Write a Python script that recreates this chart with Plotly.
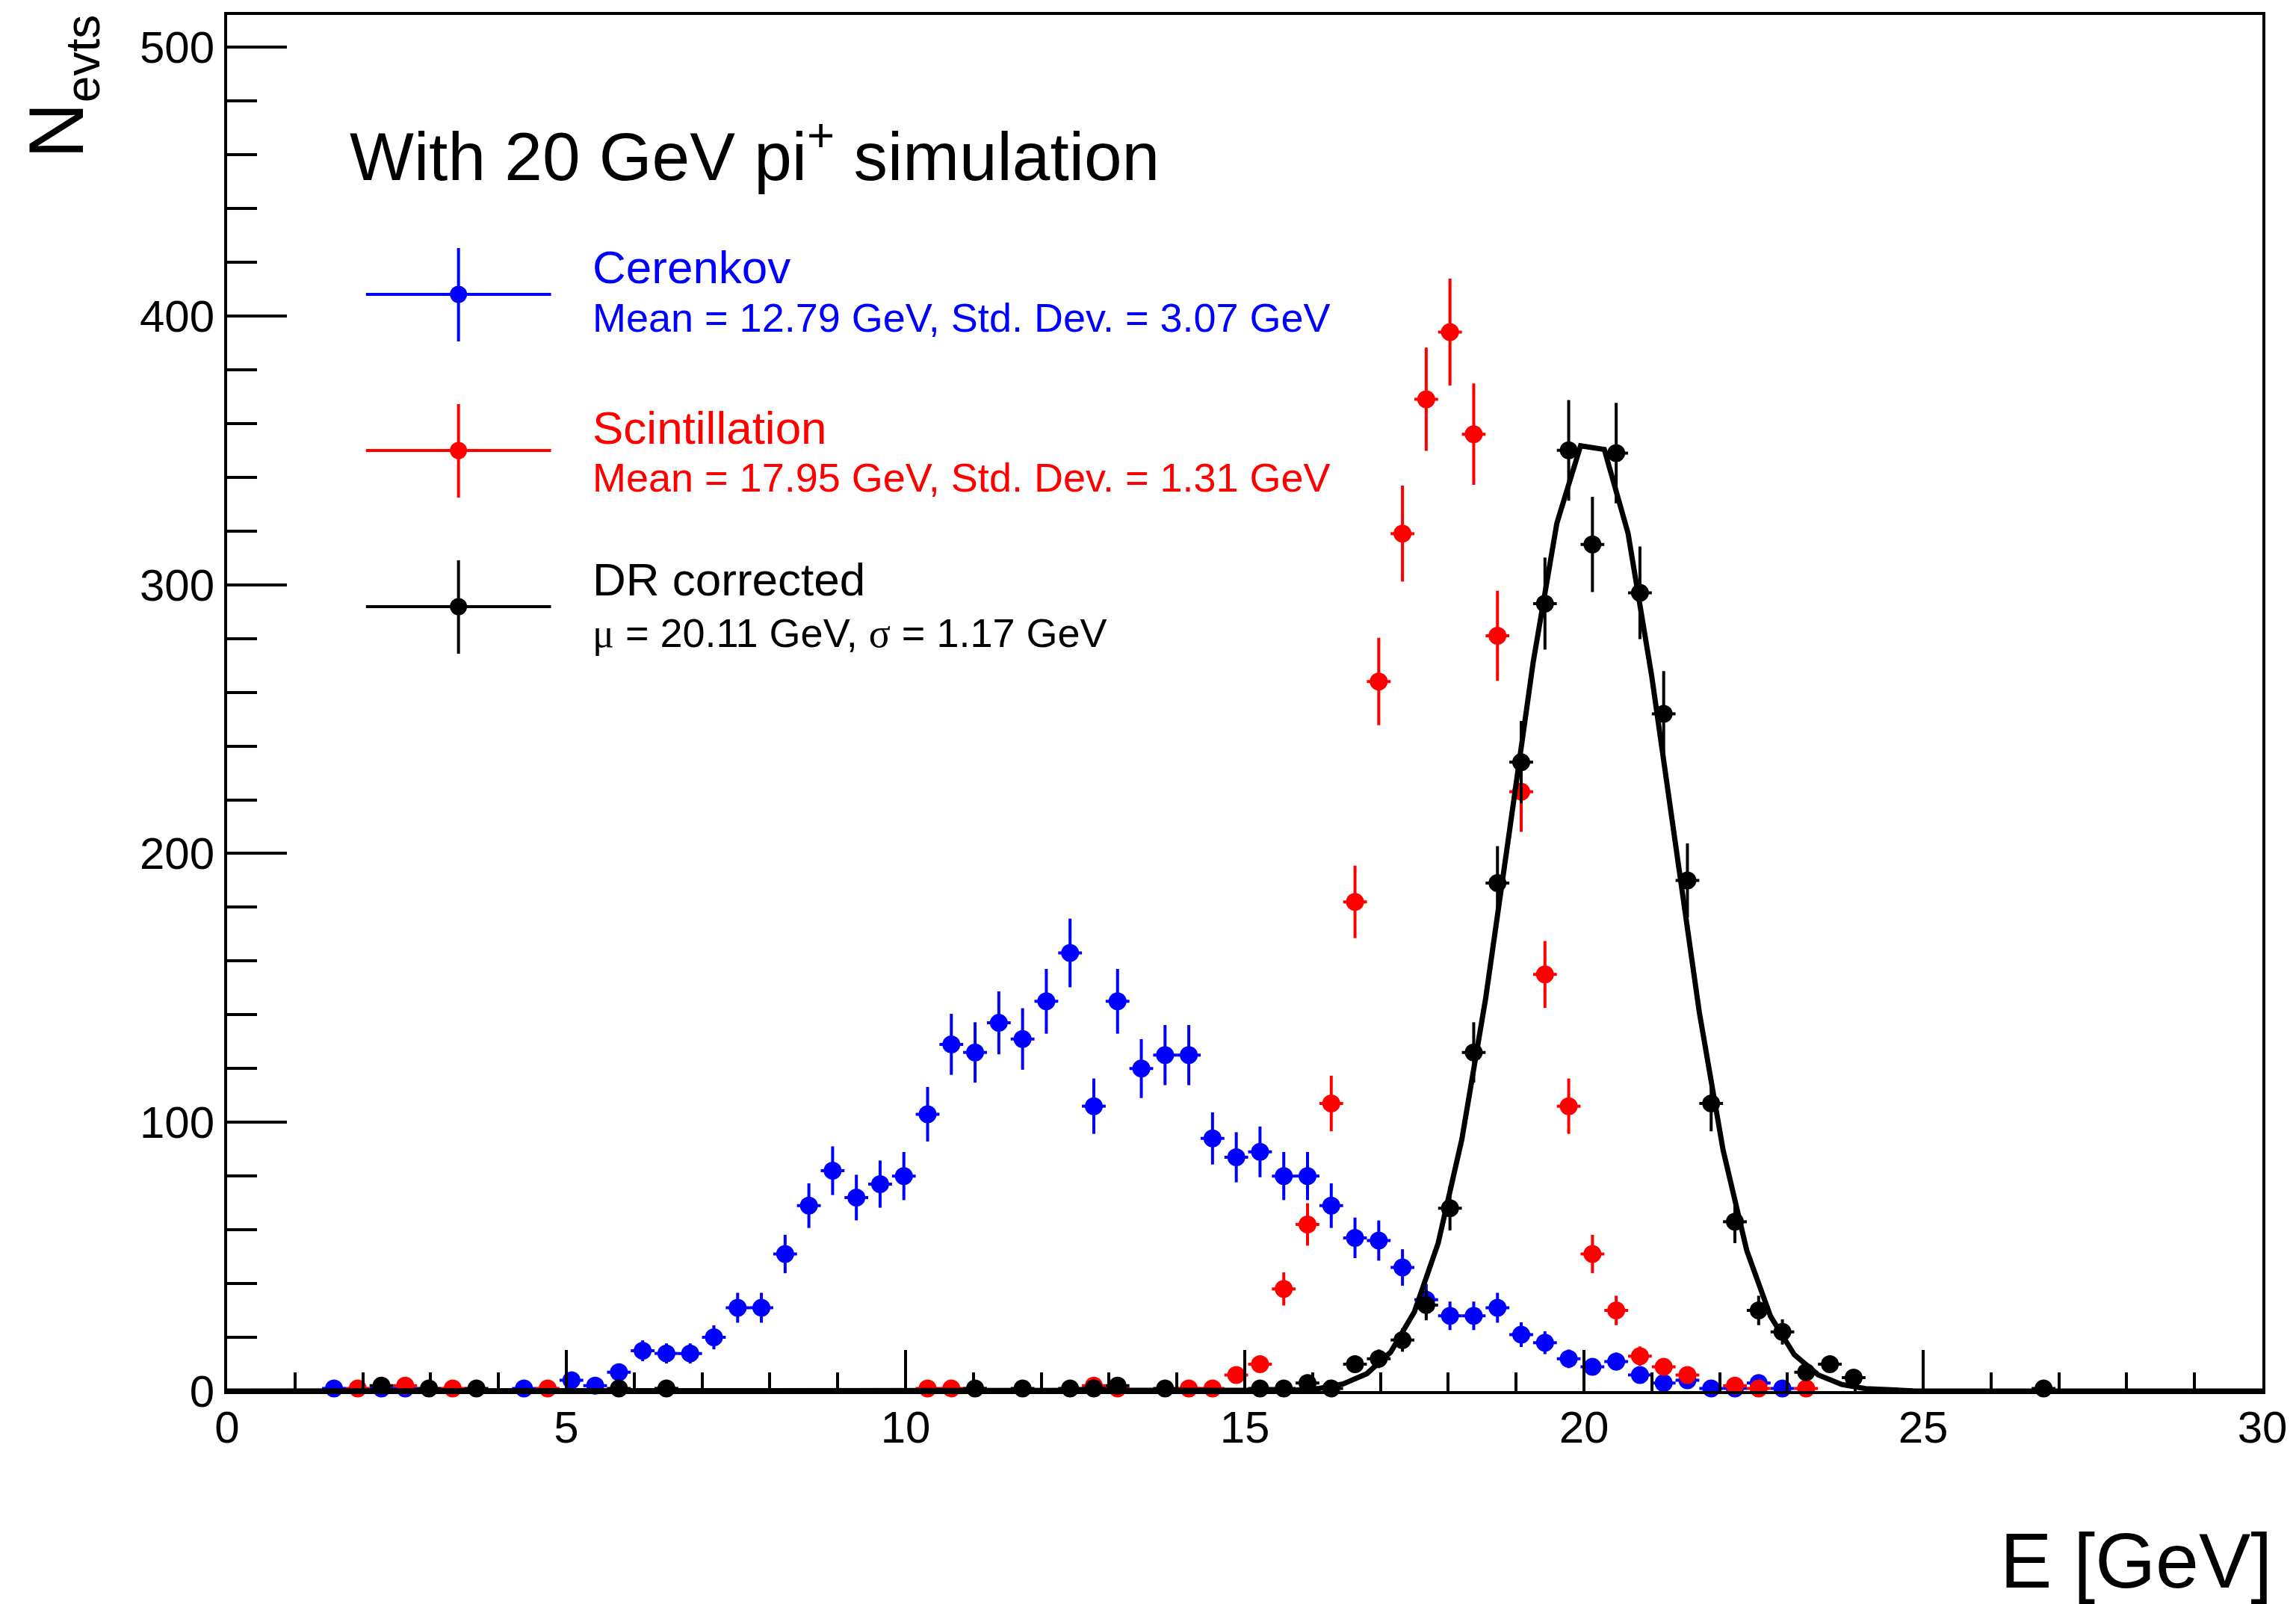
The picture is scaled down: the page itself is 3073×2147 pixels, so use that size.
import numpy as np
import plotly.graph_objects as go

# Canvas and frame geometry (pixels)
W, H = 3073, 2147
ML, MR, MT, MB = 304, 42, 20, 285
PW, PH = W - ML - MR, H - MT - MB

# 0.35 GeV bins: bin centres (GeV) and event counts
cer_e = [1.575, 2.275, 2.625, 4.375, 5.075, 5.425, 5.775, 6.125, 6.475, 6.825,
         7.175, 7.525, 7.875, 8.225, 8.575, 8.925, 9.275, 9.625, 9.975, 10.325,
         10.675, 11.025, 11.375, 11.725, 12.075, 12.425, 12.775, 13.125, 13.475,
         13.825, 14.175, 14.525, 14.875, 15.225, 15.575, 15.925, 16.275, 16.625,
         16.975, 17.325, 17.675, 18.025, 18.375, 18.725, 19.075, 19.425, 19.775,
         20.125, 20.475, 20.825, 21.175, 21.525, 21.875, 22.225, 22.575, 22.925]
cer_n = [1, 1, 1, 1, 4, 2, 7, 15, 14, 14,
         20, 31, 31, 51, 69, 82, 72, 77, 80, 103,
         129, 126, 137, 131, 145, 163, 106, 145, 120,
         125, 125, 94, 87, 89, 80, 80, 69, 57,
         56, 46, 34, 28, 28, 31, 21, 18, 12,
         9, 11, 6, 3, 4, 1, 1, 3, 1]

sci_e = [1.925, 2.625, 3.325, 4.725, 10.325, 10.675, 12.775, 13.125, 14.175,
         14.525, 14.875, 15.225, 15.575, 15.925, 16.275, 16.625, 16.975, 17.325,
         17.675, 18.025, 18.375, 18.725, 19.075, 19.425, 19.775, 20.125, 20.475,
         20.825, 21.175, 21.525, 22.225, 22.575, 23.275]
sci_n = [1, 2, 1, 1, 1, 1, 2, 1, 1,
         1, 6, 10, 38, 62, 107, 182, 264, 319,
         369, 394, 356, 281, 223, 155, 106, 51, 30,
         13, 9, 6, 2, 1, 1]

dr_e = [2.275, 2.975, 3.675, 5.775, 6.475, 11.025, 11.725, 12.425, 12.775,
        13.125, 13.825, 15.225, 15.575, 15.925, 16.275, 16.625, 16.975, 17.325,
        17.675, 18.025, 18.375, 18.725, 19.075, 19.425, 19.775, 20.125, 20.475,
        20.825, 21.175, 21.525, 21.875, 22.225, 22.575, 22.925, 23.275, 23.625,
        23.975, 26.775]
dr_n = [2, 1, 1, 1, 1, 1, 1, 1, 1,
        2, 1, 1, 1, 3, 1, 10, 12, 19,
        32, 68, 126, 189, 234, 293, 350, 315, 349,
        297, 252, 190, 107, 63, 30, 22, 7, 10,
        5, 1]

# Gaussian fit to the DR-corrected spectrum
fit_mu, fit_sigma, fit_const = 20.11, 1.17, 355.0
BIN_HALF = 0.175

x_ticks = [0, 5, 10, 15, 20, 25, 30]
y_ticks = [0, 100, 200, 300, 400, 500]

FONT = "Liberation Sans, Arial, Helvetica, sans-serif"
SERIF = "Liberation Serif, Times New Roman, serif"
BLUE, RED, BLACK = "#0000ff", "#ff0000", "#000000"


def px(x, y):
    """Pixel position on the canvas -> paper coordinates of the frame."""
    return (x - ML) / PW, (H - MB - y) / PH


def hist_trace(e, n, color):
    return go.Scatter(
        x=e, y=n, mode="markers", cliponaxis=False,
        marker=dict(symbol="circle", size=24, color=color, line=dict(width=0)),
        error_x=dict(type="constant", value=BIN_HALF, color=color, thickness=4, width=0),
        error_y=dict(type="data", array=np.sqrt(n), color=color, thickness=4, width=0),
        showlegend=False,
    )


fig = go.Figure()
fig.add_trace(hist_trace(cer_e, cer_n, BLUE))
fig.add_trace(hist_trace(sci_e, sci_n, RED))
fig.add_trace(hist_trace(dr_e, dr_n, BLACK))

fx = np.arange(0.0, 35.0001, 0.35)
fy = fit_const * np.exp(-0.5 * ((fx - fit_mu) / fit_sigma) ** 2)
fig.add_trace(go.Scatter(x=fx, y=fy, mode="lines",
                         line=dict(color=BLACK, width=7), showlegend=False))

axis_common = dict(
    showline=True, linewidth=4, linecolor=BLACK, mirror=True,
    ticks="inside", tickwidth=4, tickcolor=BLACK,
    showgrid=False, zeroline=False,
    tickfont=dict(family=FONT, size=60, color=BLACK),
)

fig.update_layout(
    width=W, height=H,
    margin=dict(l=ML, r=MR, t=MT, b=MB, pad=0),
    paper_bgcolor="white", plot_bgcolor="white",
    xaxis=dict(range=[0, 30], tickvals=x_ticks, ticklen=55,
               minor=dict(dtick=1, tick0=0, ticklen=25, tickwidth=4,
                          ticks="inside", tickcolor=BLACK),
               ticklabelstandoff=-7, **axis_common),
    yaxis=dict(range=[0, 512], tickvals=y_ticks, ticklen=80,
               minor=dict(dtick=20, tick0=0, ticklen=40, tickwidth=4,
                          ticks="inside", tickcolor=BLACK),
               ticklabelstandoff=1, **axis_common),
)

annotations = []
shapes = []


def note(text, x, y, size, color=BLACK, xanchor="left", yanchor="middle", angle=0):
    ax, ay = px(x, y)
    annotations.append(dict(
        text=text, x=ax, y=ay, xref="paper", yref="paper",
        xanchor=xanchor, yanchor=yanchor, showarrow=False, textangle=angle,
        font=dict(family=FONT, size=size, color=color),
    ))


# Axis titles
note("E [GeV]", 3046, 2089, 104, xanchor="right")
note('N<sub><span style="font-size:64px">evts</span></sub>', 82, 18, 104,
     xanchor="center", yanchor="top", angle=-90)

# Header
note("With 20 GeV pi<sup>+</sup> simulation", 466, 202, 91)

# Legend: cross-shaped error-bar symbols with two text lines each
legend_rows = [
    (394, 358, 425, BLUE, "Cerenkov", "Mean = 12.79 GeV, Std. Dev. = 3.07 GeV"),
    (603, 572, 639, RED, "Scintillation", "Mean = 17.95 GeV, Std. Dev. = 1.31 GeV"),
    (812, 776, 847, BLACK, "DR corrected",
     f'<span style="font-family:{SERIF}">\u03bc</span> = 20.11 GeV, '
     f'<span style="font-family:{SERIF}">\u03c3</span> = 1.17 GeV'),
]
for yc, y_head, y_stats, color, head, stats in legend_rows:
    x0, y0 = px(490, yc)
    x1, _ = px(738, yc)
    xm, _ = px(614, yc)
    _, ya = px(614, yc - 62)
    _, yb = px(614, yc + 63)
    shapes.append(dict(type="line", xref="paper", yref="paper", x0=x0, x1=x1,
                       y0=y0, y1=y0, line=dict(color=color, width=4)))
    shapes.append(dict(type="line", xref="paper", yref="paper", x0=xm, x1=xm,
                       y0=ya, y1=yb, line=dict(color=color, width=4)))
    cx0, cy0 = px(614 - 11.5, yc + 11.5)
    cx1, cy1 = px(614 + 11.5, yc - 11.5)
    shapes.append(dict(type="circle", xref="paper", yref="paper",
                       x0=cx0, x1=cx1, y0=cy0, y1=cy1,
                       fillcolor=color, line=dict(width=0)))
    note(head, 792, y_head, 62, color)
    note(stats, 792, y_stats, 54, color)

fig.update_layout(annotations=annotations, shapes=shapes)

fig.write_html("out.html")
